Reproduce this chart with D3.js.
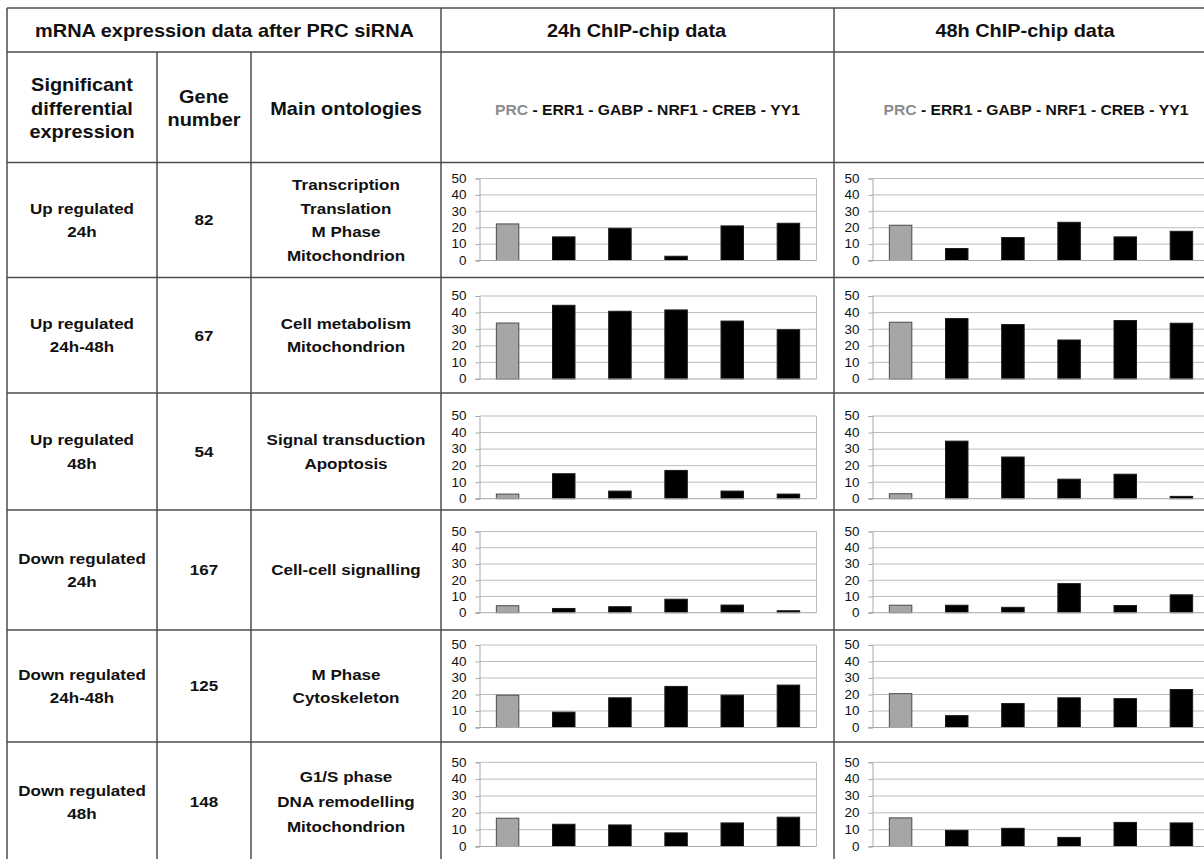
<!DOCTYPE html>
<html>
<head>
<meta charset="utf-8">
<script src="https://cdn.jsdelivr.net/npm/d3@7"></script>
<style>
  html, body { margin: 0; padding: 0; background: #fff; }
  svg { display: block; }
  text { font-family: "Liberation Sans", Arial, Helvetica, sans-serif; }
</style>
</head>
<body>
<svg id="fig" width="1204" height="859"></svg>
<script>
// ---- data ----
const categories = ["PRC", "ERR1", "GABP", "NRF1", "CREB", "YY1"];
const groupLabels = [
  ["Up regulated", "24h"],
  ["Up regulated", "24h-48h"],
  ["Up regulated", "48h"],
  ["Down regulated", "24h"],
  ["Down regulated", "24h-48h"],
  ["Down regulated", "48h"]
];
const geneNumbers = [82, 67, 54, 167, 125, 148];
const ontologies = [
  ["Transcription", "Translation", "M Phase", "Mitochondrion"],
  ["Cell metabolism", "Mitochondrion"],
  ["Signal transduction", "Apoptosis"],
  ["Cell-cell signalling"],
  ["M Phase", "Cytoskeleton"],
  ["G1/S phase", "DNA remodelling", "Mitochondrion"]
];
// percentage of genes bound, per factor (24h ChIP-chip)
const chip24h = [
  [22.3, 14.4, 19.6, 2.6, 21.1, 22.7],
  [33.7, 44.4, 40.8, 41.6, 34.9, 29.7],
  [2.8, 15.1, 4.6, 17.1, 4.6, 2.8],
  [4.3, 2.6, 3.7, 8.3, 4.7, 1.2],
  [19.6, 9.3, 18.0, 24.9, 19.6, 25.7],
  [16.8, 13.2, 12.8, 8.1, 14.0, 17.4]
];
// percentage of genes bound, per factor (48h ChIP-chip)
const chip48h = [
  [21.5, 7.3, 14.0, 23.3, 14.4, 17.8],
  [34.2, 36.4, 32.8, 23.5, 35.2, 33.6],
  [3.0, 34.8, 25.2, 11.8, 14.8, 1.4],
  [4.6, 4.6, 3.3, 17.9, 4.4, 11.0],
  [20.5, 7.2, 14.5, 18.0, 17.5, 23.0],
  [17.0, 9.6, 10.8, 5.4, 14.3, 14.0]
];
const yTicks = [0, 10, 20, 30, 40, 50];
const headerTop = "mRNA expression data after PRC siRNA";
const chipTitles = ["24h ChIP-chip data", "48h ChIP-chip data"];
const colHeads = [["Significant", "differential", "expression"], ["Gene", "number"], ["Main ontologies"]];

// ---- layout ----
const SX = 1.12;                     // horizontal stretch of the lettering
const FONT_HEAD = 17.8, FONT_BODY = 15.2, FONT_LEG = 14, FONT_TICK = 12;
const colX = [7, 157, 251, 441, 834, 1218];
const headY = [8, 52, 162.5];
const rowY = [162.5, 277.5, 393, 510, 630, 742, 862];
const plotBand = [[178.5, 260.5], [296, 379], [416, 498.7], [531.5, 612.7], [645, 727.5], [762.3, 846.5]];
const plotInsetL = 38.5, plotW = 337;
const lineColor = "#4d4d4d";

const svg = d3.select("#fig");

function label(parent, x, y, txt, size, opts = {}) {
  const t = parent.append("text")
    .attr("transform", `translate(${x},${y}) scale(${SX},1)`)
    .attr("text-anchor", opts.anchor || "middle")
    .attr("font-size", size)
    .attr("font-weight", opts.weight || "bold")
    .attr("fill", opts.fill || "#111");
  t.text(txt);
  return t;
}
function lines(parent, x, cy, arr, size, gap) {
  const n = arr.length;
  const cap = size * 0.716;
  arr.forEach((s, i) => {
    const y = cy + (i - (n - 1) / 2) * gap + cap / 2;
    label(parent, x, y, s, size);
  });
}

// ---- table grid ----
const grid = svg.append("g").attr("stroke", lineColor).attr("stroke-width", 1.5);
// horizontal rules
[headY[0], headY[1], ...rowY.slice(0, -1)].forEach(y => {
  grid.append("line").attr("x1", colX[0]).attr("x2", colX[5]).attr("y1", y).attr("y2", y);
});
// vertical rules
grid.append("line").attr("x1", colX[0]).attr("x2", colX[0]).attr("y1", headY[0]).attr("y2", rowY[6]);
[colX[3], colX[4], colX[5]].forEach(x => {
  grid.append("line").attr("x1", x).attr("x2", x).attr("y1", headY[0]).attr("y2", rowY[6]);
});
[colX[1], colX[2]].forEach(x => {
  grid.append("line").attr("x1", x).attr("x2", x).attr("y1", headY[1]).attr("y2", rowY[6]);
});

// ---- headers ----
const hdr = svg.append("g");
label(hdr, (colX[0] + colX[3]) / 2 + 0.5, 37.3, headerTop, FONT_HEAD);
chipTitles.forEach((s, i) => label(hdr, (colX[3 + i] + colX[4 + i]) / 2 - 1, 37.3, s, FONT_HEAD));
const headMid = (headY[1] + headY[2]) / 2;
lines(hdr, (colX[0] + colX[1]) / 2, headMid + 1, colHeads[0], FONT_HEAD, 23.5);
lines(hdr, (colX[1] + colX[2]) / 2, headMid + 1, colHeads[1], FONT_HEAD, 23.5);
lines(hdr, (colX[2] + colX[3]) / 2, headMid + 1, colHeads[2], FONT_HEAD, 23.5);

// factor legend: PRC in grey, the others in black
[0, 1].forEach(i => {
  const cx = (colX[3 + i] + colX[4 + i]) / 2 + 10;
  const t = hdr.append("text")
    .attr("transform", `translate(${cx},115) scale(${SX},1)`)
    .attr("text-anchor", "middle")
    .attr("font-size", FONT_LEG)
    .attr("font-weight", "bold");
  categories.forEach((c, k) => {
    t.append("tspan").attr("fill", k === 0 ? "#8c8c8c" : "#111").text(c);
    if (k < categories.length - 1) t.append("tspan").attr("fill", "#111").text(" - ");
  });
});

// ---- body rows ----
const body = svg.append("g");
groupLabels.forEach((g, r) => {
  const cy = (rowY[r] + rowY[r + 1]) / 2;
  lines(body, (colX[0] + colX[1]) / 2, cy, g, FONT_BODY, 23.5);
  lines(body, (colX[1] + colX[2]) / 2, cy, [String(geneNumbers[r])], FONT_BODY, 23.5);
  lines(body, (colX[2] + colX[3]) / 2, cy, ontologies[r], FONT_BODY, r === 5 ? 25 : 23.5);
});

// ---- bar charts ----
const x = d3.scaleBand().domain(categories).range([0, plotW]).paddingInner(0.6).paddingOuter(0.3);

function drawChart(values, left, top, bottom) {
  const y = d3.scaleLinear().domain([0, 50]).range([bottom - top, 0]);
  const g = svg.append("g").attr("transform", `translate(${left},${top})`);
  // gridlines
  g.append("g").selectAll("line").data(yTicks.slice(1)).join("line")
    .attr("x1", 0).attr("x2", plotW)
    .attr("y1", d => y(d)).attr("y2", d => y(d))
    .attr("stroke", "#bdbdbd").attr("stroke-width", 1);
  // right frame
  g.append("line").attr("x1", plotW).attr("x2", plotW).attr("y1", 0).attr("y2", y(0))
    .attr("stroke", "#bdbdbd");
  // bars
  g.append("g").selectAll("rect").data(values).join("rect")
    .attr("x", (d, i) => x(categories[i]))
    .attr("width", x.bandwidth())
    .attr("y", d => y(d))
    .attr("height", d => y(0) - y(d))
    .attr("fill", (d, i) => i === 0 ? "#a6a6a6" : "#000")
    .attr("stroke", (d, i) => i === 0 ? "#4a4a4a" : "#1a1a1a")
    .attr("stroke-width", 1);
  // baseline
  g.append("line").attr("x1", -4).attr("x2", plotW).attr("y1", y(0)).attr("y2", y(0))
    .attr("stroke", "#a8a8a8");
  // value axis
  const ax = g.append("g").call(d3.axisLeft(y).tickValues(yTicks).tickSize(4).tickPadding(7.6));
  ax.select(".domain").attr("stroke", "#a8a8a8");
  ax.selectAll(".tick line").attr("stroke", "#a8a8a8");
  ax.selectAll(".tick text")
    .attr("font-size", FONT_TICK)
    .attr("font-family", "Liberation Sans, Arial, sans-serif")
    .attr("fill", "#111")
    .attr("transform", `scale(${SX},1)`);
}

[chip24h, chip48h].forEach((set, c) => {
  const left = colX[3 + c] + plotInsetL;
  set.forEach((vals, r) => drawChart(vals, left, plotBand[r][0], plotBand[r][1]));
});
</script>
</body>
</html>
